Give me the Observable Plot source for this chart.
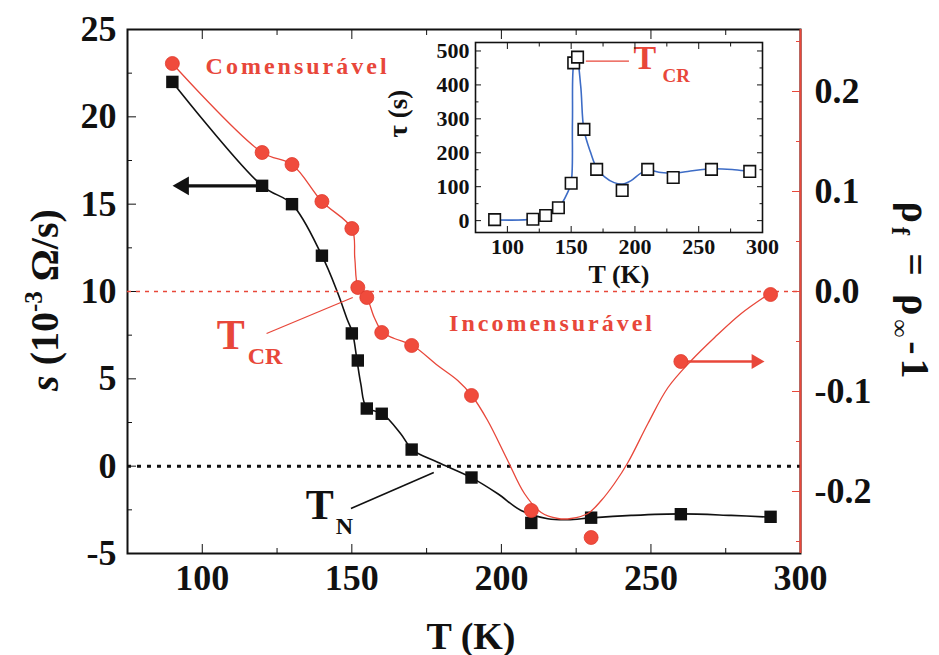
<!DOCTYPE html>
<html>
<head>
<meta charset="utf-8">
<script src="https://cdn.jsdelivr.net/npm/d3@7"></script>
<script src="https://cdn.jsdelivr.net/npm/@observablehq/plot@0.6"></script>
<style>
  body { margin: 0; background: #fff; }
  #chart { position: relative; width: 939px; height: 655px; overflow: hidden; }
  #chart svg { position: absolute; }
</style>
</head>
<body>
<div id="chart"></div>
<script>
// Measured temperatures (K)
const temps = [90, 120, 130, 140, 150, 152, 155, 160, 170, 190, 210, 230, 260, 290];
// Relaxation rate s (10^-3 Ω/s) — black squares, left axis
const sRate = [22.0, 16.05, 15.0, 12.05, 7.6, 6.05, 3.3, 3.0, 0.95, -0.65, -3.25, -2.95, -2.75, -2.9];
// ρf = ρ∞ - 1 — red circles, right axis
const rhoF = [0.228, 0.139, 0.127, 0.090, 0.063, 0.004, -0.006, -0.041, -0.054, -0.104, -0.219, -0.246, -0.070, -0.003];
// Relaxation time τ (s) — inset
const tau = [3, 4, 15, 38, 110, 465, 482, 269, 151, 89, 151, 127, 151, 145];

// Smooth guide-to-the-eye curves
const sFitT = [90, 120, 130, 140, 145.2, 148.6, 150.2, 151.7, 153, 154.9, 160.3, 166.4, 170.3, 178.7, 190.1, 198.8, 206.6, 215.5, 222.2, 230, 243.4, 260.1, 276.8, 290];
const sFitV = [22.0, 16.05, 15.0, 12.05, 9.96, 8.34, 7.67, 6.09, 4.71, 3.37, 2.99, 1.84, 0.93, 0.22, -0.67, -1.58, -2.54, -3.01, -3.07, -2.96, -2.82, -2.73, -2.82, -2.92];
const rhoFitT = [90, 120, 130, 140, 150, 151, 152.1, 155, 157.5, 160.3, 164.2, 170.3, 178.7, 185.4, 190.1, 195.4, 202.1, 207.7, 213.3, 218.9, 223.3, 228.9, 233.4, 237.8, 242.3, 249, 255.7, 263.5, 271.3, 280.2, 289.7];
const rhoFitV = [0.228, 0.139, 0.127, 0.090, 0.063, 0.033, 0.004, -0.006, -0.026, -0.041, -0.047, -0.054, -0.074, -0.089, -0.104, -0.129, -0.169, -0.202, -0.221, -0.227, -0.227, -0.222, -0.209, -0.192, -0.171, -0.132, -0.096, -0.069, -0.046, -0.022, -0.002];
const tauFitT = [91, 120, 131, 140.5, 147, 150, 151, 152, 154.3, 157.5, 160, 165.4, 170, 176, 183.7, 190.3, 197, 204.7, 211, 220.4, 230.4, 241.4, 261, 278, 290];
const tauFitV = [2, 4, 14, 39, 81, 112, 290, 462, 484, 396, 268, 199, 155, 130, 112, 108, 118, 140, 148, 142, 140, 145, 153, 150, 145];

// Tick values
const xMajor = [100, 150, 200, 250, 300];
const xMinor = [125, 175, 225, 275];
const sMajor = [-5, 0, 5, 10, 15, 20, 25];
const sMinor = [-2.5, 2.5, 7.5, 12.5, 17.5, 22.5];
const rhoMajor = [-0.2, -0.1, 0.0, 0.1, 0.2];
const rhoMinor = [-0.25, -0.15, -0.05, 0.05, 0.15, 0.25];
const tauMajor = [0, 100, 200, 300, 400, 500];
const tauMinor = [50, 150, 250, 350, 450];

const sPts = temps.map((T, i) => ({T, v: sRate[i]}));
const rhoPts = temps.map((T, i) => ({T, v: rhoF[i]}));
const tauPts = temps.map((T, i) => ({T, v: tau[i]}));
const sFit = sFitT.map((T, i) => ({T, v: sFitV[i]}));
const rhoFit = rhoFitT.map((T, i) => ({T, v: rhoFitV[i]}));
const tauFit = tauFitT.map((T, i) => ({T, v: tauFitV[i]}));

const font = "'Liberation Serif', 'Times New Roman', serif";
const ink = "#111";
const red = "#e8473a";
const blue = "#3d6cc6";
const frame = {width: 939, height: 655, marginLeft: 127, marginRight: 139, marginTop: 29, marginBottom: 102};
const baseStyle = {fontFamily: font, fontSize: "36px", fontWeight: "bold", color: ink, background: "transparent", overflow: "visible"};
const fmtRho = d => (d < -1e-9 ? "-" : "") + Math.abs(d).toFixed(1);

// Main panel: s(T) on the left axis
const main = Plot.plot({
  ...frame,
  style: baseStyle,
  x: {domain: [75, 300]},
  y: {domain: [-5, 25]},
  marks: [
    Plot.ruleY([0], {stroke: ink, strokeWidth: 3, strokeDasharray: "4,6"}),
    Plot.line(sFit, {x: "T", y: "v", curve: "catmull-rom", stroke: ink, strokeWidth: 1.6}),
    // arrow pointing to the left axis
    Plot.link([0], {x1: () => temps[1], y1: () => sRate[1], x2: () => 94, y2: () => sRate[1], stroke: ink, strokeWidth: 3.4}),
    Plot.dot([0], {x: () => 93.7, y: () => sRate[1], symbol: "triangle", r: 7, rotate: -90, fill: ink}),
    Plot.dot(sPts, {x: "T", y: "v", symbol: "square", r: 7, fill: ink}),
    Plot.link([0], {x1: () => 149.7, y1: () => -2.42, x2: () => 177.4, y2: () => -0.36, stroke: ink, strokeWidth: 1.6}),
    Plot.text(["T"], {x: () => 134.6, y: () => -3.0, textAnchor: "start", lineAnchor: "bottom", fontSize: 42, fill: ink}),
    Plot.text(["N"], {x: () => 144.6, y: () => -3.9, textAnchor: "start", lineAnchor: "bottom", fontSize: 24, fill: ink}),
    Plot.frame({stroke: ink, strokeWidth: 2}),
    Plot.axisX({ticks: xMajor, tickSize: 9, dy: -9, tickPadding: 11, tickFormat: d => String(d), label: null}),
    Plot.axisX({ticks: xMinor, tickSize: 5, dy: -5, tickFormat: () => "", label: null}),
    Plot.axisX({anchor: "top", ticks: xMajor, tickSize: 9, dy: 9, tickFormat: () => "", label: null}),
    Plot.axisX({anchor: "top", ticks: xMinor, tickSize: 5, dy: 5, tickFormat: () => "", label: null}),
    Plot.axisY({ticks: sMajor, tickSize: 9, dx: 9, tickPadding: 11, tickFormat: d => String(d), label: null}),
    Plot.axisY({ticks: sMinor, tickSize: 5, dx: 5, tickFormat: () => "", label: null}),
    Plot.text(["T (K)"], {frameAnchor: "bottom", dx: 7, dy: 95, lineAnchor: "bottom", fontSize: 38, fill: ink})
  ]
});

// Overlay: ρf(T) on the right axis
const over = Plot.plot({
  ...frame,
  style: baseStyle,
  x: {domain: [75, 300], axis: null},
  y: {domain: [-0.262, 0.262]},
  marks: [
    Plot.ruleY([0], {stroke: red, strokeWidth: 1.5, strokeDasharray: "4,5"}),
    Plot.line(rhoFit, {x: "T", y: "v", curve: "catmull-rom", stroke: red, strokeWidth: 1.3}),
    // arrow pointing to the right axis
    Plot.link([0], {x1: () => temps[12], y1: () => rhoF[12], x2: () => 285, y2: () => rhoF[12], stroke: red, strokeWidth: 2.4}),
    Plot.dot([0], {x: () => 285.1, y: () => rhoF[12], symbol: "triangle", r: 5.5, rotate: 90, fill: red}),
    Plot.dot(rhoPts, {x: "T", y: "v", r: 7, fill: "#f04b3c", stroke: "#e03b2e", strokeWidth: 0.8}),
    Plot.link([0], {x1: () => 121.5, y1: () => -0.042, x2: () => 150.3, y2: () => -0.006, stroke: red, strokeWidth: 1.3}),
    Plot.text(["T"], {x: () => 104.8, y: () => -0.057, textAnchor: "start", lineAnchor: "bottom", fontSize: 42, fill: red}),
    Plot.text(["CR"], {x: () => 115.2, y: () => -0.072, textAnchor: "start", lineAnchor: "bottom", fontSize: 24, fill: red}),
    Plot.text(["Comensurável"], {x: () => 101.1, y: () => 0.218, textAnchor: "start", lineAnchor: "bottom", fontSize: 24, fill: red}),
    Plot.text(["Incomensurável"], {x: () => 182.5, y: () => -0.039, textAnchor: "start", lineAnchor: "bottom", fontSize: 24, fill: red}),
    Plot.ruleX([300], {stroke: red, strokeWidth: 2}),
    Plot.axisY({anchor: "right", ticks: rhoMajor, tickSize: 9, dx: -9, tickFormat: () => "", color: red, label: null}),
    Plot.axisY({anchor: "right", ticks: rhoMinor, tickSize: 5, dx: -5, tickFormat: () => "", color: red, label: null}),
    Plot.axisY({anchor: "right", ticks: rhoMajor, tickSize: 0, tickPadding: 14, tickFormat: fmtRho, color: ink, label: null})
  ]
});

// Inset: relaxation time τ(T)
const inset = Plot.plot({
  width: 390, height: 260, marginLeft: 95, marginRight: 8, marginTop: 10, marginBottom: 60,
  style: {...baseStyle, fontSize: "22px"},
  x: {domain: [75, 300]},
  y: {domain: [-35, 525]},
  marks: [
    Plot.line(tauFit, {x: "T", y: "v", curve: "catmull-rom", stroke: blue, strokeWidth: 1.6}),
    Plot.dot(tauPts, {x: "T", y: "v", symbol: "square", r: 6.5, fill: "white", stroke: ink, strokeWidth: 1.6}),
    Plot.link([0], {x1: () => 161.5, y1: () => 470, x2: () => 195.3, y2: () => 470, stroke: red, strokeWidth: 1.2}),
    Plot.text(["T"], {x: () => 198.9, y: () => 448, textAnchor: "start", lineAnchor: "bottom", fontSize: 34, fill: red}),
    Plot.text(["CR"], {x: () => 221.6, y: () => 410, textAnchor: "start", lineAnchor: "bottom", fontSize: 19, fill: red}),
    Plot.frame({stroke: ink, strokeWidth: 1.6}),
    Plot.axisX({ticks: xMajor, tickSize: 6, dy: -6, tickPadding: 6, tickFormat: d => String(d), label: null}),
    Plot.axisX({ticks: xMinor, tickSize: 3.5, dy: -3.5, tickFormat: () => "", label: null}),
    Plot.axisX({anchor: "top", ticks: xMajor, tickSize: 6, dy: 6, tickFormat: () => "", label: null}),
    Plot.axisX({anchor: "top", ticks: xMinor, tickSize: 3.5, dy: 3.5, tickFormat: () => "", label: null}),
    Plot.axisY({ticks: tauMajor, tickSize: 6, dx: 6, tickPadding: 6, tickFormat: d => String(d), label: null}),
    Plot.axisY({ticks: tauMinor, tickSize: 3.5, dx: 3.5, tickFormat: () => "", label: null}),
    Plot.axisY({anchor: "right", ticks: tauMajor, tickSize: 6, dx: -6, tickFormat: () => "", label: null}),
    Plot.axisY({anchor: "right", ticks: tauMinor, tickSize: 3.5, dx: -3.5, tickFormat: () => "", label: null}),
    Plot.text(["τ (s)"], {frameAnchor: "left", dx: -77, rotate: -90, fontSize: 27, fill: ink}),
    Plot.text(["T (K)"], {frameAnchor: "bottom", dy: 50, lineAnchor: "bottom", fontSize: 26, fill: ink})
  ]
});

const chart = document.getElementById("chart");
main.style.left = "0px"; main.style.top = "0px";
over.style.left = "0px"; over.style.top = "0px";
inset.style.left = "380px"; inset.style.top = "32px";
chart.append(main, over, inset);

// Letter-spaced phase labels
d3.select(over).selectAll("text")
  .filter(function() { return /ensurável$/.test(this.textContent); })
  .attr("letter-spacing", 3);

// Axis titles with sub/superscripts
const title = (svg, transform, size) => d3.select(svg).append("text")
  .attr("transform", transform).attr("text-anchor", "middle").attr("fill", ink)
  .style("font-family", font).style("font-weight", "bold").style("font-size", size + "px");

const left = title(main, "translate(58,300) rotate(-90)", 40);
left.append("tspan").style("font-style", "italic").text("s");
left.append("tspan").text(" (10");
left.append("tspan").attr("dy", -16).style("font-size", "25px").text("-3");
left.append("tspan").attr("dy", 16).text(" Ω/s)");

const right = title(main, "translate(902,292) rotate(90)", 40);
right.attr("letter-spacing", 4);
right.append("tspan").text("ρ");
right.append("tspan").attr("dy", 10).style("font-size", "25px").text("f");
right.append("tspan").attr("dy", -10).text(" = ρ");
right.append("tspan").attr("dy", 10).style("font-size", "25px").text("∞");
right.append("tspan").attr("dy", -10).text("-1");
</script>
</body>
</html>
